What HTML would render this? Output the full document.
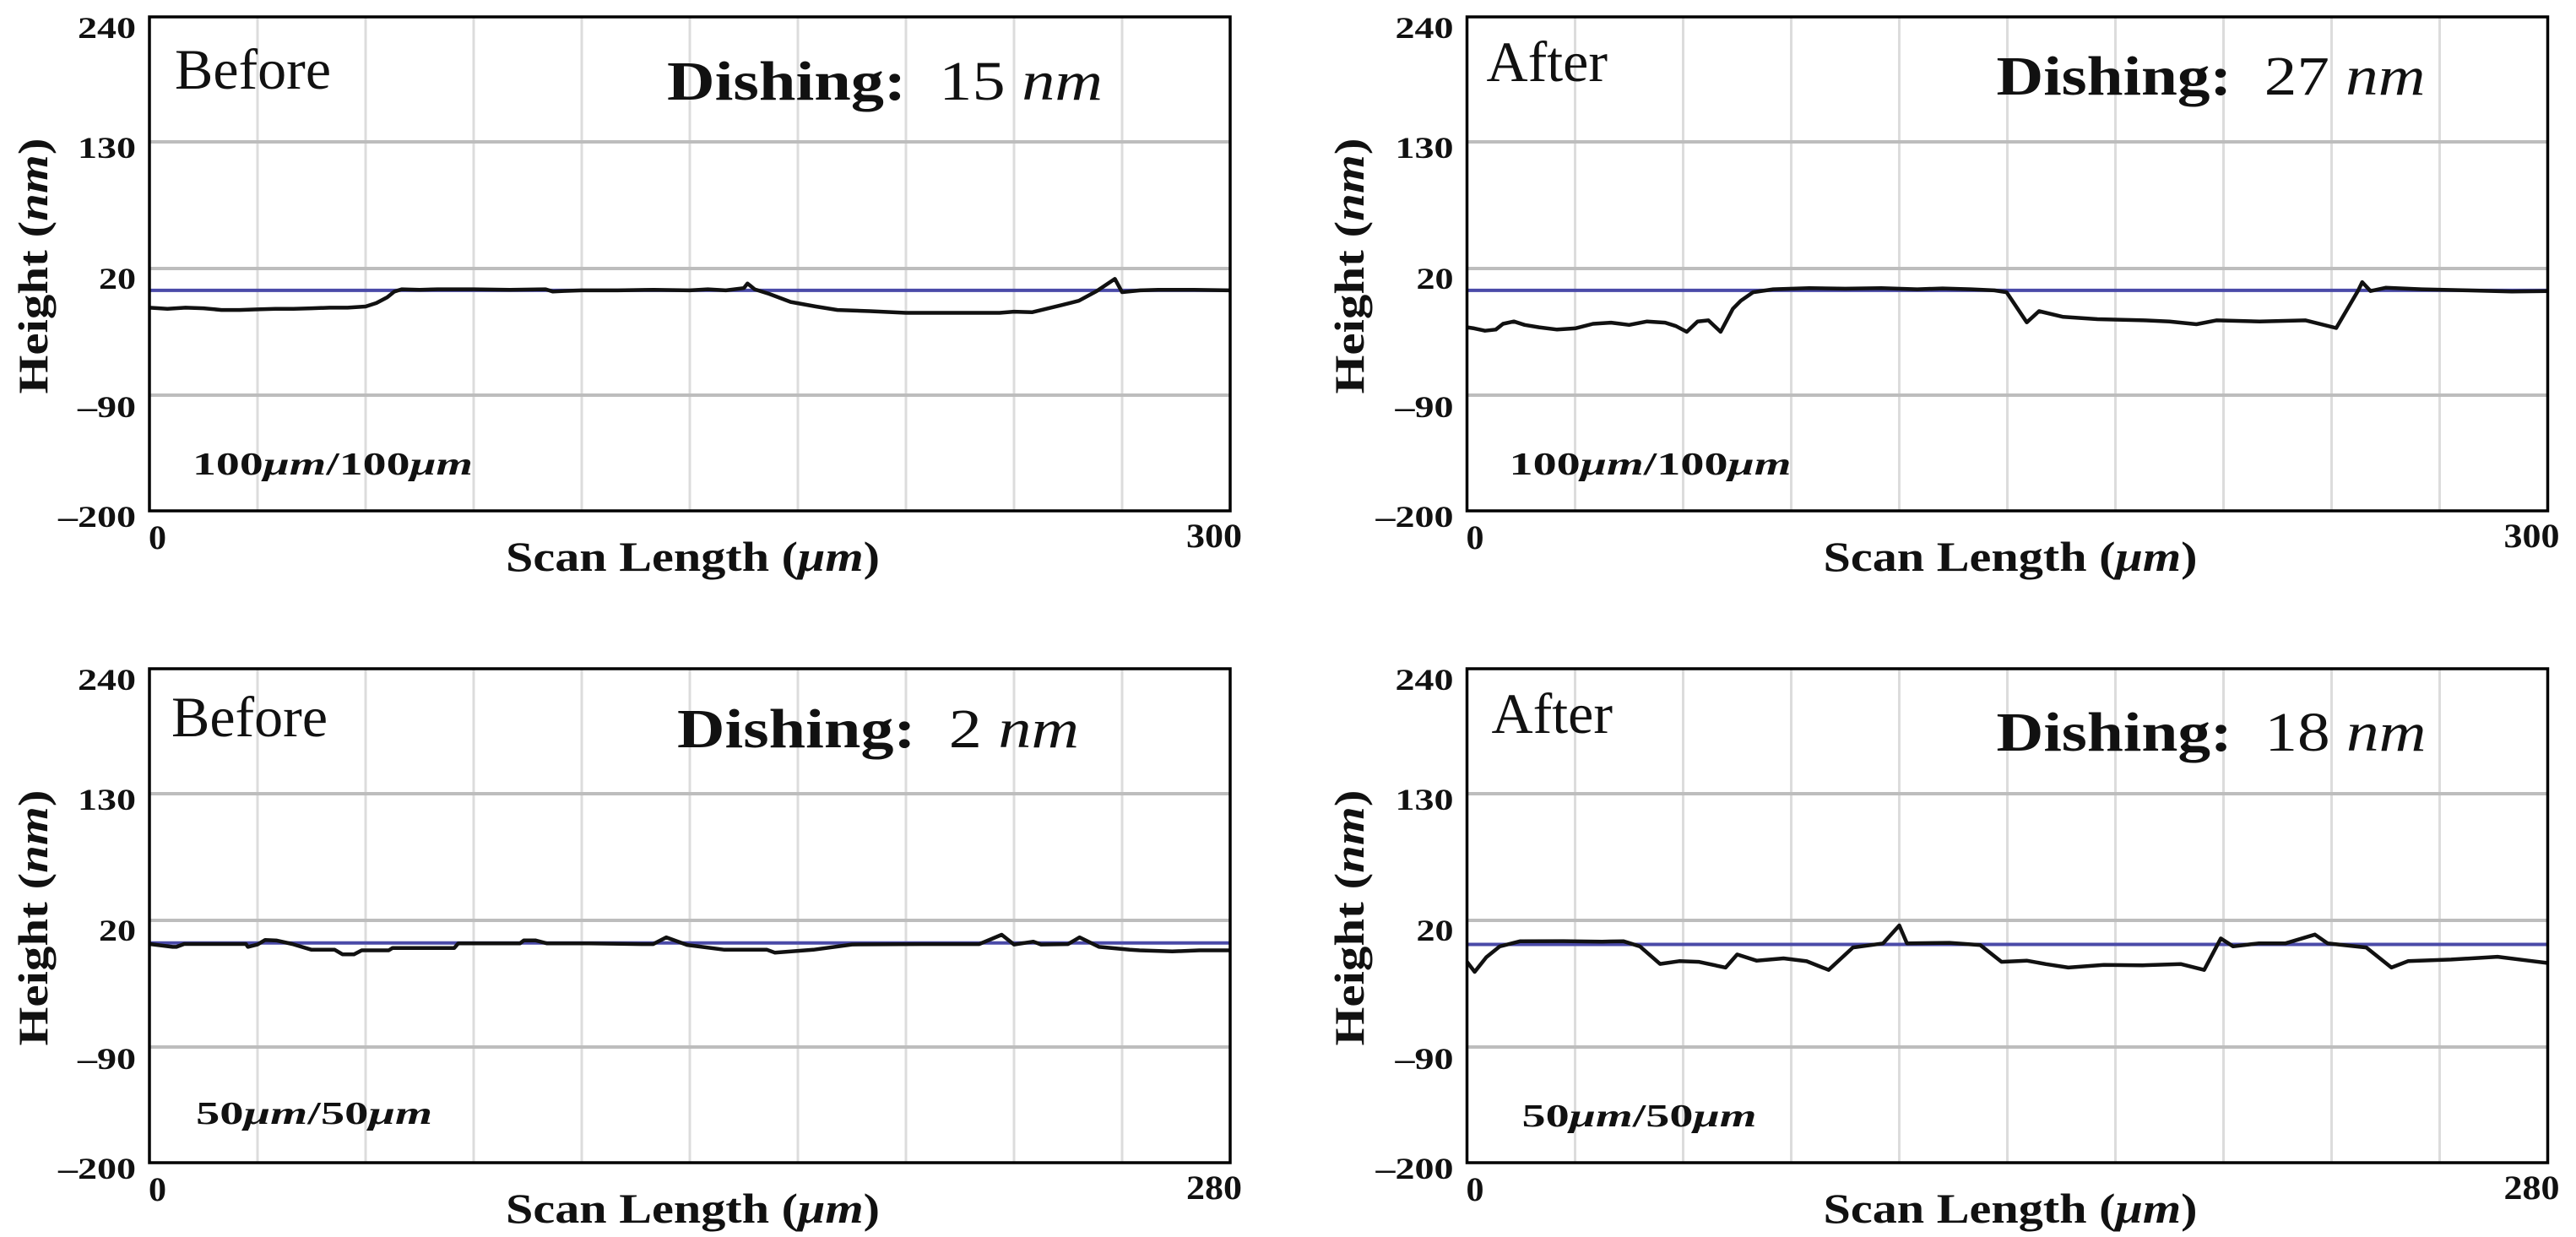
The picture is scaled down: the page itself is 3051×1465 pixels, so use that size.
<!DOCTYPE html>
<html><head><meta charset="utf-8"><style>
html,body{margin:0;padding:0;background:#fff;}
svg{display:block;}
text{font-family:"Liberation Serif",serif;fill:#111;}
</style></head><body>
<svg id="fig" width="3051" height="1465" viewBox="0 0 3051 1465" xmlns="http://www.w3.org/2000/svg"></svg>
<script>
// ---- data (scan position in µm, height in nm) ----
const tlX = [0,5,10,15,20,25,30,35,40,45,50,55,60,63,66,68,70,75,80,90,100,110,112,115,120,130,140,150,155,160,165,166,168,172,178,185,191,200,210,220,236,240,245,253,258,263,268,270,275,280,290,300];
const tlY = [-14,-15,-14,-14.5,-16,-16,-15.5,-15,-15,-14.5,-14,-14,-13,-10,-5,0,2,1.5,2,2,1.5,2,0,0.5,1,1,1.5,1,2,1,3,7,2,-2,-9,-13,-16,-17,-18.5,-18.5,-18.5,-17.5,-18,-12,-8,0.5,11,-0.5,1,1.5,1.5,1];
const trX = [0,2,5,8,10,13,16,20,25,30,35,40,45,50,55,58,61,64,67,70.4,73.8,76,79.4,85,95,105,115,125,132,140,146.4,149.8,155.4,158.8,165.5,175,188,195,202.5,208,220,232.8,241.3,247.4,248.5,250.8,255,265,277.7,290,300];
const trY = [-31,-32,-34,-33,-28,-26,-29,-31,-33,-32,-28,-27,-29,-26,-27,-30,-35,-26,-25,-35,-15,-8,-0.6,2,3,2.5,3,2,2.7,2,1,-0.6,-26.8,-17,-22,-24,-25,-26,-28.4,-25,-26,-25,-31.7,1,8.2,0.4,3.3,2,1,0,0.4];
const blX = [0,6,7,9,25,25.5,28,30,33,37,42,48,50,53,55,62,63,79,80,96,97,100,103,114,127.5,130.5,133.9,139.3,149,160,162,172,182,200,215,220.8,224,229,231,238,241,246,254,256.5,265,272,280];
const blY = [-0.5,-3,-3,-0.5,-0.5,-3,-1,3,2.5,-0.5,-5.5,-5.5,-9.5,-9.5,-6,-6,-4,-4,0,0,2.6,2.6,0,0,-0.6,-0.6,5.3,-1.3,-5.5,-5.5,-8,-5.5,-1,-0.6,-0.6,7.5,-1,1.5,-1,-0.6,5.3,-3,-5.5,-6,-7,-6,-6];
const brX = [0,2,5,8.5,13.8,25,35,40.5,44.8,50,55,60,67,70,75,82,88,93.7,100,107.8,112,114,125,133,138.5,145,150,155.8,165,175,185,191,195.3,198.5,205,212,219.7,223,233,239.5,243.8,255,267,275,280];
const brY = [-16,-24.7,-12,-2.6,1.9,2,1.5,1.9,-2.6,-17.8,-15.4,-16,-21,-9.6,-15,-13,-15.5,-23,-3.5,0,15.6,0,0.5,-1.5,-16,-15,-18,-21,-18.6,-19,-18,-23,4.3,-2.6,0,0,7.7,0,-3.5,-21,-15.4,-14,-11.6,-15,-17];
const refLevel = [1, 1, 0.4, -0.9];
const yTicks = [240,130,20,-90,-200];
const yGrid = [130,20,-90];
const xMaxes = [300,300,280,280];
const panelTags = ['Before','After','Before','After'];
const dishing = ['15','27','2','18'];
const scaleTags = ['100','100','50','50'];

const NS='http://www.w3.org/2000/svg';
const svg=document.getElementById('fig');
function mk(tag,attrs,parent){const e=document.createElementNS(NS,tag);for(const k in attrs)e.setAttribute(k,attrs[k]);(parent||svg).appendChild(e);return e;}

const panels=[
 {L:177,T:20,xs:tlX,ys:tlY,tagDx:30,tagDy:85,dDx:613,dDy:98,sDx:51,sEnd:383,sDy:542,yt:56,nmEnd:1129},
 {L:1737.5,T:20,xs:trX,ys:trY,tagDx:23,tagDy:76,dDx:627,dDy:92,sDx:50,sEnd:384,sDy:542,yt:1615,nmEnd:1135},
 {L:177,T:792,xs:blX,ys:blY,tagDx:26,tagDy:80,dDx:625,dDy:93,sDx:55,sEnd:335,sDy:539,yt:56,nmEnd:1101},
 {L:1737.5,T:792,xs:brX,ys:brY,tagDx:29,tagDy:76,dDx:627,dDy:97,sDx:65,sEnd:343,sDy:542,yt:1615,nmEnd:1136}
];
const W=1280,H=585;

panels.forEach((p,i)=>{
  const g=mk('g',{});
  
  
  const xMax=xMaxes[i];
  const sx=v=>p.L+v/xMax*W;
  const sy=v=>p.T+298-(v-20)*1.364;
  for(let k=1;k<10;k++){
    const x=p.L+k*W/10;
    const l=mk('line',{x1:x,x2:x,y1:p.T,y2:p.T+H,stroke:'#dcdcdc','stroke-width':3},g);
    
    
  }
  yGrid.forEach(v=>{
    const l=mk('line',{x1:p.L,x2:p.L+W,y1:sy(v),y2:sy(v),stroke:'#bdbdbd','stroke-width':4},g);
    
    
  });
  const r=mk('line',{x1:p.L,x2:p.L+W,y1:sy(refLevel[i]),y2:sy(refLevel[i]),stroke:'#4a4aa8','stroke-width':4},g);
  
  
  const d=p.xs.map((x,j)=>(j?'L':'M')+sx(x).toFixed(1)+' '+sy(p.ys[j]).toFixed(1)).join(' ');
  const pr=mk('path',{d:d,fill:'none',stroke:'#111','stroke-width':4.5,'stroke-linejoin':'round'},g);
  
  
  const f=mk('rect',{x:p.L,y:p.T,width:W,height:H,fill:'none',stroke:'#000','stroke-width':3.5},g);
  
  
  const tickC=[13,155,310,462,592];
  const tickW=[69,69,44,69,92];
  yTicks.forEach((v,k)=>{
    const t=mk('text',{x:p.L-16,y:p.T+tickC[k]+12,'text-anchor':'end','font-size':36,'font-weight':'bold',textLength:tickW[k],lengthAdjust:'spacingAndGlyphs'},g);
    t.textContent=String(v).replace('-','\u2013');
    
    
  });
  const x0=mk('text',{x:p.L-1,y:p.T+630,'font-size':40,'font-weight':'bold',textLength:21,lengthAdjust:'spacingAndGlyphs'},g);
  x0.textContent='0';
  
  
  const x1=mk('text',{x:p.L+W+14,y:p.T+628,'text-anchor':'end','font-size':40,'font-weight':'bold',textLength:66,lengthAdjust:'spacingAndGlyphs'},g);
  x1.textContent=String(xMax);
  
  
  const xt=mk('text',{x:p.L+422,y:p.T+656,'font-size':50,'font-weight':'bold',textLength:443,lengthAdjust:'spacingAndGlyphs'},g);
  xt.innerHTML='Scan Length (<tspan font-style="italic">\u03bcm</tspan>)';
  
  
  const yt=mk('text',{x:0,y:0,'text-anchor':'middle','font-size':50,'font-weight':'bold',textLength:303,lengthAdjust:'spacingAndGlyphs',transform:'translate('+p.yt+','+(p.T+295)+') rotate(-90)'},g);
  yt.innerHTML='Height (<tspan font-style="italic">nm</tspan>)';
  
  
  const tg=mk('text',{x:p.L+p.tagDx,y:p.T+p.tagDy,'font-size':68},g);
  tg.textContent=panelTags[i];
  
  
  const dt=mk('text',{x:p.L+p.dDx,y:p.T+p.dDy,'font-size':66,textLength:p.nmEnd-p.dDx,lengthAdjust:'spacingAndGlyphs'},g);
  dt.innerHTML='<tspan font-weight="bold">Dishing:</tspan>\u00a0 '+dishing[i]+' <tspan font-style="italic">nm</tspan>';
  
  
  const st=mk('text',{x:p.L+p.sDx,y:p.T+p.sDy,'font-size':38,'font-weight':'bold',textLength:p.sEnd-p.sDx,lengthAdjust:'spacingAndGlyphs'},g);
  st.innerHTML=scaleTags[i]+'<tspan font-style="italic">\u03bcm</tspan>/'+scaleTags[i]+'<tspan font-style="italic">\u03bcm</tspan>';
  
  
});
</script>
</body></html>
